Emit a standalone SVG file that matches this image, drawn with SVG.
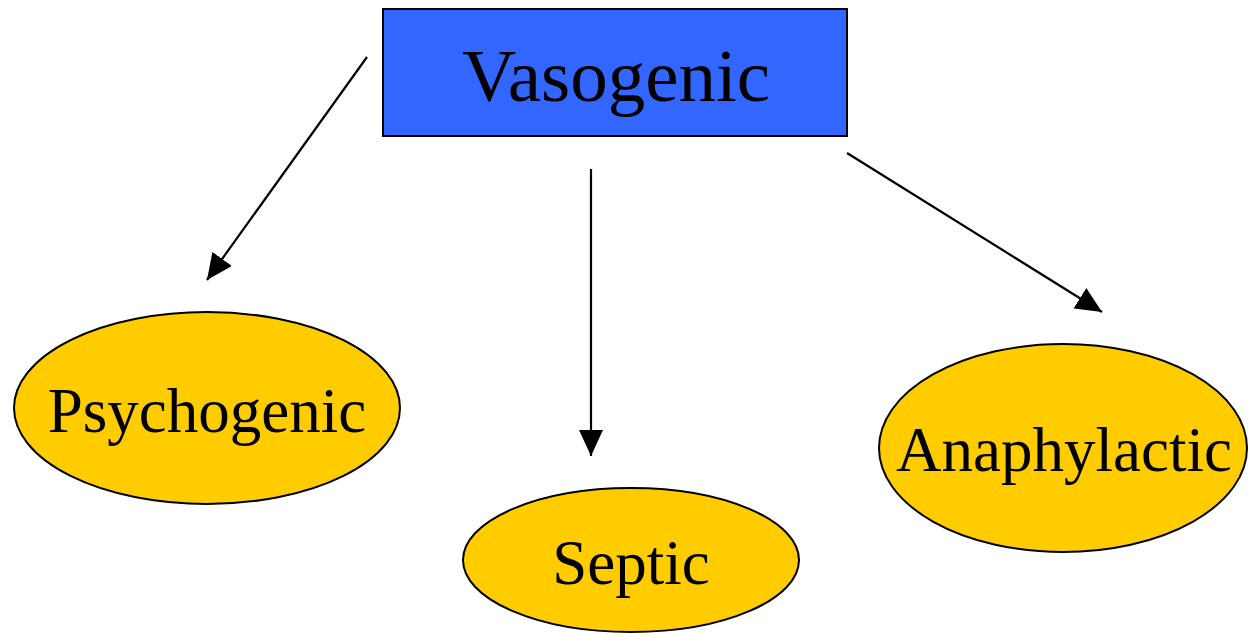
<svg xmlns="http://www.w3.org/2000/svg" width="1249" height="634" viewBox="0 0 1249 634">
<style>
.lbl{font-family:"Liberation Serif","Times New Roman",serif;fill:#000;text-anchor:middle}
.ell{fill:#FFCC00;stroke:#000;stroke-width:2}
.conn{stroke:#000;stroke-width:2.2;fill:none;marker-end:url(#ah)}
</style>
<defs>
<marker id="ah" markerUnits="userSpaceOnUse" markerWidth="26" markerHeight="24" refX="26" refY="12" orient="auto">
<path d="M0,0 L26,12 L0,24 Z" fill="#000"/>
</marker>
</defs>
<rect width="1249" height="634" fill="#fff"/>
<g id="vasogenic">
<rect x="383" y="9" width="464" height="127" fill="#3366FF" stroke="#000" stroke-width="2"/>
<text class="lbl" x="616" y="101" font-size="75">Vasogenic</text>
</g>
<g id="psychogenic">
<ellipse class="ell" cx="207" cy="408" rx="193" ry="96"/>
<text class="lbl" x="207" y="432" font-size="63">Psychogenic</text>
</g>
<g id="septic">
<ellipse class="ell" cx="631" cy="560" rx="168" ry="72"/>
<text class="lbl" x="631" y="584" font-size="63">Septic</text>
</g>
<g id="anaphylactic">
<ellipse class="ell" cx="1063" cy="448" rx="184" ry="104"/>
<text class="lbl" x="1064" y="471" font-size="63">Anaphylactic</text>
</g>
<g id="connectors">
<line class="conn" x1="367" y1="57" x2="207" y2="280"/>
<line class="conn" x1="591" y1="169" x2="591" y2="456"/>
<line class="conn" x1="847" y1="153" x2="1102" y2="312"/>
</g>
</svg>
